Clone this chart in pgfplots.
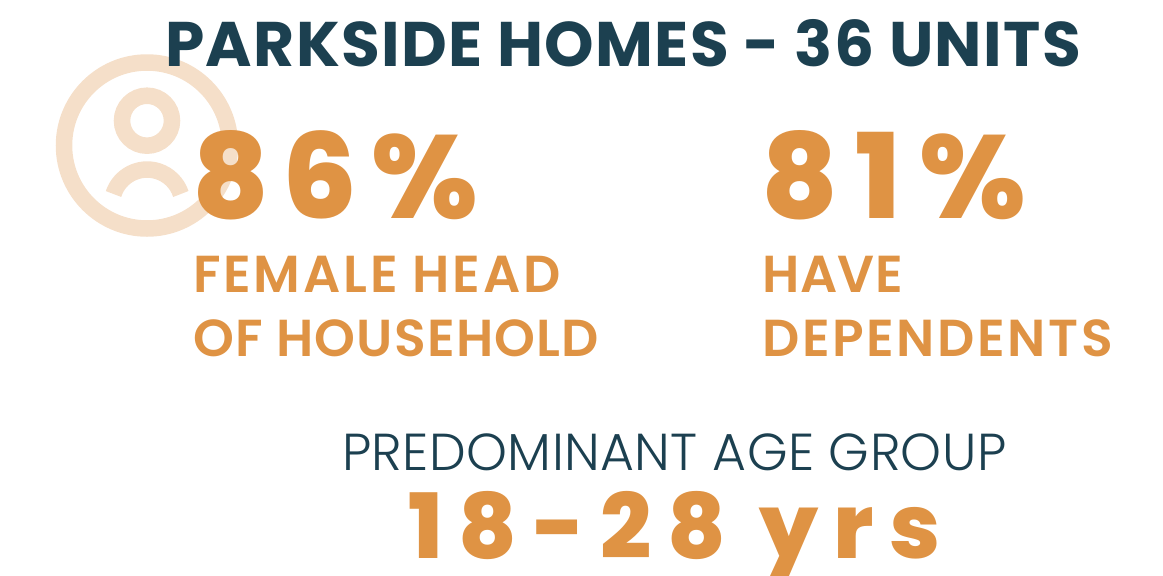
\documentclass[border=0pt]{standalone}
\usepackage{pgfplots}
\pgfplotsset{compat=1.18}
\usepackage{fontspec}
\setmainfont{Poppins}
\newfontfamily\fbig{Poppins}[UprightFont={* ExtraBold}]
\newfontfamily\fhead{Poppins}[UprightFont={* Bold}]
\newfontfamily\flab{Poppins}[UprightFont={* SemiBold}]
\newfontfamily\flight{Poppins}[UprightFont={* Light}]
\definecolor{navy}{RGB}{28,64,80}
\definecolor{amber}{RGB}{223,147,68}
\definecolor{pale}{RGB}{245,223,201}
\newcommand{\fs}[1]{\fontsize{#1}{#1}\selectfont}
\newcommand{\ls}[1]{\addfontfeature{LetterSpace=#1}}
\begin{document}
\begin{tikzpicture}
\begin{axis}[
    hide axis,
    scale only axis,
    width=1163pt,
    height=576pt,
    xmin=0, xmax=1163,
    ymin=0, ymax=576,
    y dir=reverse,
    clip=false,
]
% person icon
\draw[pale, line width=16.5pt] (axis cs:147,145.5) circle[radius=83];
\draw[pale, line width=16.5pt] (axis cs:147,120.7) circle[radius=25];
\draw[pale, line width=16.5pt] (axis cs:113.5,194) arc[start angle=-162,end angle=-18,radius=35.4];
% text
\node[anchor=base west, navy, inner sep=0pt] at (axis cs:165,66) {\fs{63}\fhead\ls{2.15} PARKSIDE HOMES - 36 UNITS};
\node[anchor=base west, amber, inner sep=0pt] at (axis cs:192,218) {\fs{118}\fbig\ls{11.5} 86\%};
\node[anchor=base west, amber, inner sep=0pt] at (axis cs:761,218) {\fs{118}\fbig\ls{15} 81\%};
\node[anchor=base west, amber, inner sep=0pt] at (axis cs:193,292) {\fs{52}\flab\ls{5.3} FEMALE HEAD};
\node[anchor=base west, amber, inner sep=0pt] at (axis cs:193,356) {\fs{52}\flab\ls{2.3} OF HOUSEHOLD};
\node[anchor=base west, amber, inner sep=0pt] at (axis cs:762,292) {\fs{52}\flab\ls{1} HAVE};
\node[anchor=base west, amber, inner sep=0pt] at (axis cs:762,356) {\fs{52}\flab\ls{5} DEPENDENTS};
\node[anchor=base west, navy, inner sep=0pt] at (axis cs:342,470) {\fs{52}\flight\ls{0.8} PREDOMINANT AGE GROUP};
\node[anchor=base west, amber, inner sep=0pt] at (axis cs:408,558) {\fs{90}\fbig\ls{17.4} 18-28 yrs};
\end{axis}
\pgfresetboundingbox
\useasboundingbox (0,0) rectangle (1163pt,576pt);
\end{tikzpicture}
\end{document}
